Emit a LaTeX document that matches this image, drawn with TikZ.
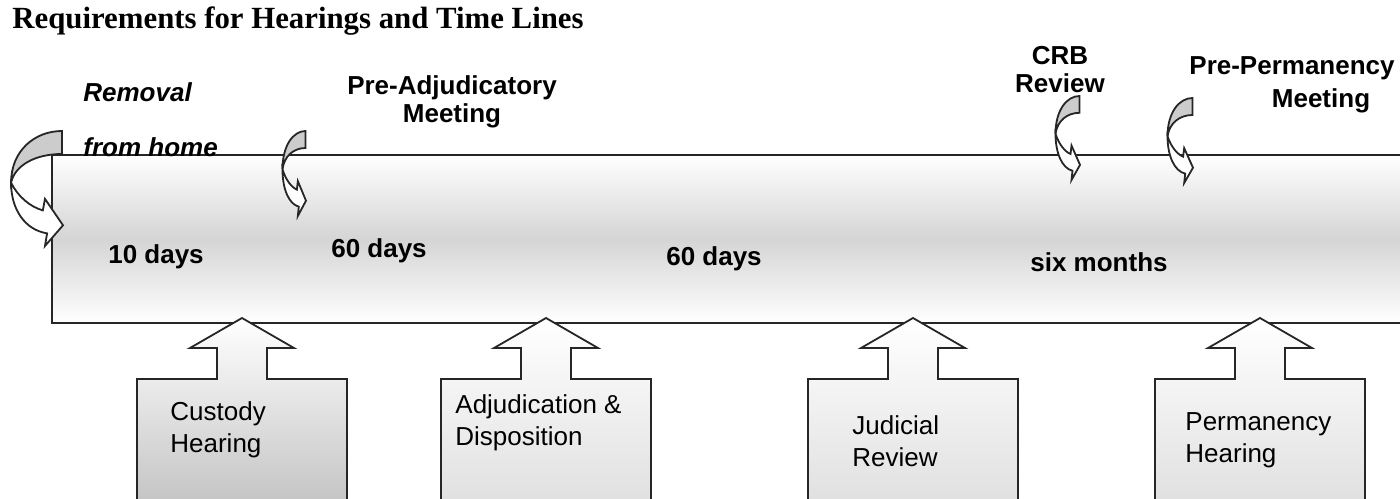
\documentclass[tikz,border=0pt]{standalone}
\usepackage{fontspec}
\setmainfont{Liberation Serif}
\newfontfamily\arialfont{Liberation Sans}
\usetikzlibrary{positioning}

\begin{document}
\begin{tikzpicture}[
    x=0.5pt, y=-0.5pt,
    outline/.style={draw=black!85, line width=0.9pt},
    lbl/.style={font=\arialfont\bfseries\fontsize{13}{14}\selectfont, align=center, inner sep=0pt},
    ilbl/.style={font=\arialfont\bfseries\itshape\fontsize{13}{14}\selectfont, anchor=west, inner sep=0pt},
    btext/.style={font=\arialfont\fontsize{13}{16}\selectfont, align=left, anchor=west, inner sep=0pt},
    curvarr/.pic={
        \draw[outline, fill=gray!40] (0.98,0) .. controls (0.47,0) and (0.02,0.17) .. (0.02,0.45)
            .. controls (0.09,0.3) and (0.47,0.2) .. (0.98,0.2) -- cycle;
        \draw[outline, fill=white] (0.02,0.45) .. controls (0.15,0.57) and (0.38,0.66) .. (0.62,0.69)
            -- (0.66,0.59) -- (1,0.82) -- (0.66,1) -- (0.70,0.89)
            .. controls (0.28,0.86) and (0.02,0.68) .. (0.02,0.45) -- cycle;
    },
    callout/.pic={
        \draw[outline, top color=white, bottom color=#1]
            (-105,200) -- (-105,61) -- (-25,61) -- (-25,30) -- (-52,30) -- (0,0)
            -- (52,30) -- (25,30) -- (25,61) -- (105,61) -- (105,200);
    }
]
    \useasboundingbox (0,0) rectangle (1400,498);
    \clip (0,0) rectangle (1400,498);

    \node[font=\bfseries\fontsize{15.4}{17}\selectfont, anchor=west, inner sep=0pt] (title) at (12,21)
        {Requirements for Hearings and Time Lines};

    % time line
    \path[outline, top color=white, bottom color=white, middle color=gray!33] (52,155) rectangle (1420,323);

    \node[lbl] (d10) at (156,257) {10 days};
    \node[lbl] (d60a) at (379,251) {60 days};
    \node[lbl] (d60b) at (714,259) {60 days};
    \node[lbl] (six) at (1099,262) {six months};

    \node[ilbl] (removal) at (83,92) {Removal};
    \node[ilbl] (fromhome) at (83,147) {from home};
    \node[lbl] (preadj) at (452,102) {Pre-Adjudicatory\\Meeting};
    \node[lbl] (crb) at (1060,70) {CRB\\Review};
    \node[lbl] (preperm) at (1292,68) {Pre-Permanency};
    \node[lbl] (preperm2) at (1321,101) {Meeting};

    \pic[xscale=53, yscale=115] (arrremove) at (10,131) {curvarr};
    \pic[xscale=24, yscale=85] (arrpreadj) at (282,131) {curvarr};
    \pic[xscale=25, yscale=84] (arrcrb) at (1055,96) {curvarr};
    \pic[xscale=26, yscale=85] (arrpreperm) at (1167,98) {curvarr};

    % hearings
    \pic (custody) at (242,318) {callout=gray!50};
    \pic (adjud) at (546,318) {callout=gray!26};
    \pic (judicial) at (913,318) {callout=gray!26};
    \pic (perm) at (1260,318) {callout=gray!26};

    \node[btext] (custtxt) at (170,430) {Custody\\Hearing};
    \node[btext] (adjtxt) at (455,423) {Adjudication \&\\Disposition};
    \node[btext] (judtxt) at (852,441) {Judicial\\Review};
    \node[btext] (permtxt) at (1185,440) {Permanency\\Hearing};
\end{tikzpicture}
\end{document}
